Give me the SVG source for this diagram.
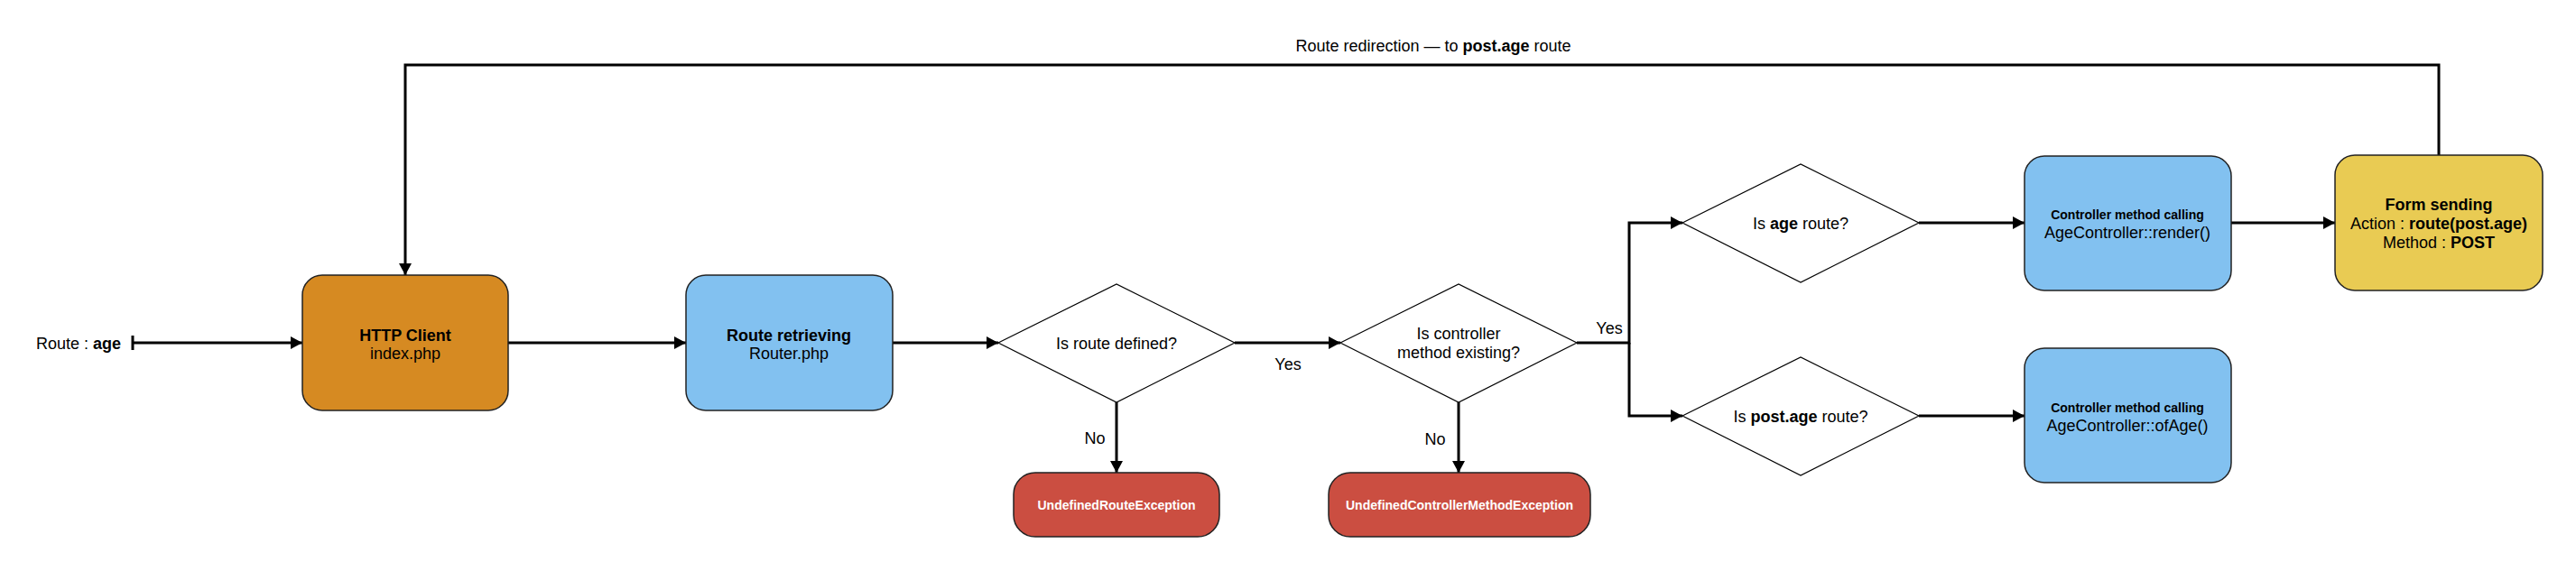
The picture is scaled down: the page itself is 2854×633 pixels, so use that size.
<svg xmlns="http://www.w3.org/2000/svg" width="2854" height="633" viewBox="0 0 2854 633">
<style>
text{font-family:"Liberation Sans",Arial,sans-serif;font-size:18px;fill:#000;text-anchor:middle}
.b{font-weight:bold}
.s{font-size:14px;font-weight:bold}
.w{fill:#fff}
.box{stroke:#222;stroke-width:1.5}
.dia{fill:#fff;stroke:#000;stroke-width:1.2}
.con{fill:none;stroke:#000;stroke-width:3}
</style>
<defs>
<marker id="ah" markerUnits="userSpaceOnUse" markerWidth="14" markerHeight="14" refX="13" refY="7" orient="auto">
<path d="M0,0 L13,7 L0,14 z" fill="#000"/>
</marker>
</defs>
<rect width="2854" height="633" fill="#fff"/>
<g id="connectors">
<path class="con" d="M147,372 V388"/>
<path class="con" d="M147,380 H335" marker-end="url(#ah)"/>
<path class="con" d="M563,380 H760" marker-end="url(#ah)"/>
<path class="con" d="M989,380 H1106" marker-end="url(#ah)"/>
<path class="con" d="M1368,380 H1485" marker-end="url(#ah)"/>
<path class="con" d="M1237,446 V524" marker-end="url(#ah)"/>
<path class="con" d="M1616,446 V524" marker-end="url(#ah)"/>
<path class="con" d="M1747,380 H1805 V247 H1864" marker-end="url(#ah)"/>
<path class="con" d="M1805,380 V461 H1864" marker-end="url(#ah)"/>
<path class="con" d="M2126,247 H2243" marker-end="url(#ah)"/>
<path class="con" d="M2472,247 H2587" marker-end="url(#ah)"/>
<path class="con" d="M2126,461 H2243" marker-end="url(#ah)"/>
<path class="con" d="M2702,172 V72 H449 V305" marker-end="url(#ah)"/>
<text x="1588" y="57">Route redirection — to <tspan class="b">post.age</tspan> route</text>
<text x="1427" y="410">Yes</text>
<text x="1783" y="370">Yes</text>
<text x="1213" y="492">No</text>
<text x="1590" y="493">No</text>
</g>
<g id="start">
<text x="87" y="387">Route : <tspan class="b">age</tspan></text>
</g>
<g id="http-client">
<rect class="box" x="335" y="305" width="228" height="150" rx="22" fill="#D68A22"/>
<text class="b" x="449" y="378">HTTP Client</text>
<text x="449" y="398">index.php</text>
</g>
<g id="router">
<rect class="box" x="760" y="305" width="229" height="150" rx="22" fill="#82C1F0"/>
<text class="b" x="874" y="378">Route retrieving</text>
<text x="874" y="398">Router.php</text>
</g>
<g id="route-defined">
<polygon class="dia" points="1106,380 1237,315 1368,380 1237,446"/>
<text x="1237" y="387">Is route defined?</text>
</g>
<g id="undefined-route">
<rect class="box" x="1123" y="524" width="228" height="71" rx="24" fill="#CB4E41"/>
<text class="s w" x="1237" y="565">UndefinedRouteException</text>
</g>
<g id="method-existing">
<polygon class="dia" points="1485,380 1616,315 1747,380 1616,446"/>
<text x="1616" y="376">Is controller</text>
<text x="1616" y="397">method existing?</text>
</g>
<g id="undefined-method">
<rect class="box" x="1472" y="524" width="290" height="71" rx="24" fill="#CB4E41"/>
<text class="s w" x="1617" y="565">UndefinedControllerMethodException</text>
</g>
<g id="is-age">
<polygon class="dia" points="1864,247 1995,182 2126,247 1995,313"/>
<text x="1995" y="254">Is <tspan class="b">age</tspan> route?</text>
</g>
<g id="is-post-age">
<polygon class="dia" points="1864,461 1995,396 2126,461 1995,527"/>
<text x="1995" y="468">Is <tspan class="b">post.age</tspan> route?</text>
</g>
<g id="render">
<rect class="box" x="2243" y="173" width="229" height="149" rx="22" fill="#82C1F0"/>
<text class="s" x="2357" y="243">Controller method calling</text>
<text x="2357" y="264">AgeController::render()</text>
</g>
<g id="ofage">
<rect class="box" x="2243" y="386" width="229" height="149" rx="22" fill="#82C1F0"/>
<text class="s" x="2357" y="457">Controller method calling</text>
<text x="2357" y="478">AgeController::ofAge()</text>
</g>
<g id="form">
<rect class="box" x="2587" y="172" width="230" height="150" rx="22" fill="#E9CB53"/>
<text class="b" x="2702" y="233">Form sending</text>
<text x="2702" y="254">Action : <tspan class="b">route(post.age)</tspan></text>
<text x="2702" y="275">Method : <tspan class="b">POST</tspan></text>
</g>
</svg>
